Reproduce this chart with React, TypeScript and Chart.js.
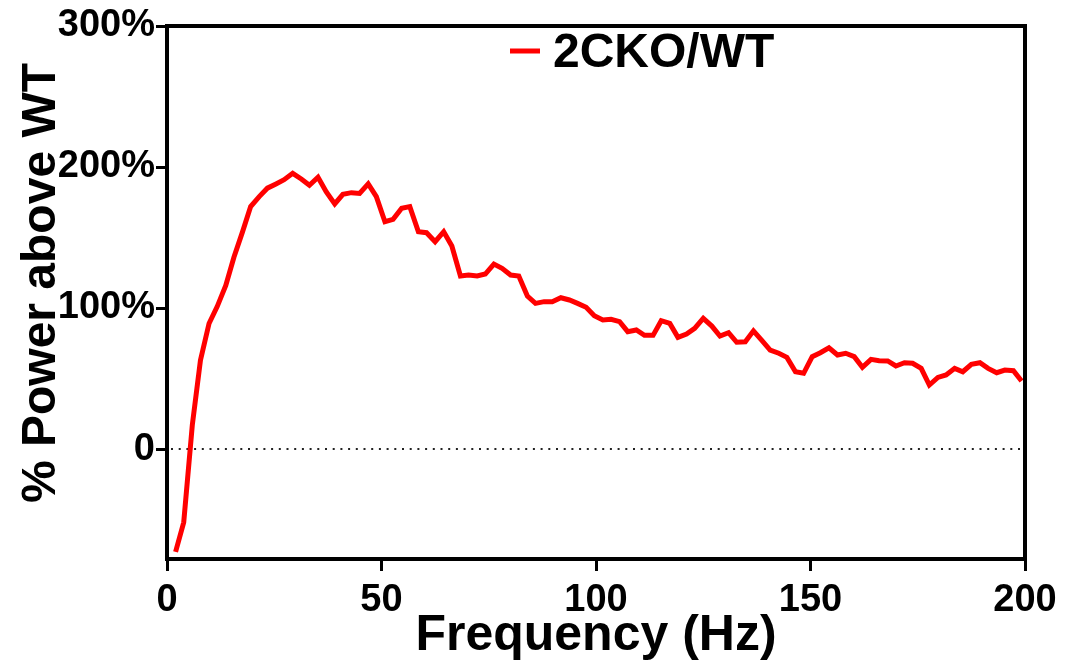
import React, { useEffect, useRef } from "react";
import { Chart, registerables } from "chart.js";
Chart.register(...registerables);

// Frequency bins (Hz)
const freqs = [
  2.0, 3.9, 5.9, 7.8, 9.8, 11.7, 13.7, 15.6, 17.6, 19.5,
  21.5, 23.4, 25.4, 27.3, 29.3, 31.3, 33.2, 35.2, 37.1, 39.1,
  41.0, 43.0, 44.9, 46.9, 48.8, 50.8, 52.7, 54.7, 56.6, 58.6,
  60.5, 62.5, 64.5, 66.4, 68.4, 70.3, 72.3, 74.2, 76.2, 78.1,
  80.1, 82.0, 84.0, 85.9, 87.9, 89.8, 91.8, 93.8, 95.7, 97.7,
  99.6, 101.6, 103.5, 105.5, 107.4, 109.4, 111.3, 113.3, 115.2, 117.2,
  119.1, 121.1, 123.0, 125.0, 127.0, 128.9, 130.9, 132.8, 134.8, 136.7,
  138.7, 140.6, 142.6, 144.5, 146.5, 148.4, 150.4, 152.3, 154.3, 156.3,
  158.2, 160.2, 162.1, 164.1, 166.0, 168.0, 169.9, 171.9, 173.8, 175.8,
  177.7, 179.7, 181.6, 183.6, 185.5, 187.5, 189.5, 191.4, 193.4, 195.3,
  197.3, 199.2,
];

// % power above WT
const ratioValues = [
  -73, -52, 17, 63, 89, 101, 116, 136, 154, 172,
  179, 185, 188, 191, 195.5, 191.5, 187, 192.7, 182.5, 173.8,
  180.6, 181.8, 181.3, 188, 179, 161.2, 162.9, 170.7, 171.9, 154.1,
  153.4, 147, 154.1, 144, 122.7, 123.4, 122.7, 124.1, 131.2, 128.2,
  123.4, 122.7, 108.5, 103.3, 104.5, 104.5, 107.3, 105.7, 103.3, 100.5,
  94.5, 91.5, 92, 90.3, 83.2, 84.4, 80.6, 80.6, 91, 89.1,
  79.2, 81.6, 85.6, 92.7, 87.2, 80.1, 82.5, 75.7, 76.1, 83.8,
  76.8, 70.2, 67.9, 65, 54.8, 53.7, 65.5, 68.3, 71.8, 66.7,
  67.9, 65.5, 57.9, 63.6, 62.6, 62.5, 58.9, 61.2, 60.8, 57.2,
  45.4, 50.8, 52.5, 57.2, 54.8, 60, 61.2, 57.2, 54.1, 56,
  55.5, 48.2,
];

const seriesLabel = "2CKO/WT";
const xTicks = [0, 50, 100, 150, 200];
const yTicks = [0, 100, 200, 300];
const xTitle = "Frequency (Hz)";
const yTitle = "% Power above WT";

const FONT = "'Liberation Sans', Arial, sans-serif";

export default function App() {
  const ref = useRef<HTMLCanvasElement>(null);

  useEffect(() => {
    document.body.style.margin = "0";
    const canvas = ref.current!;

    const decor = {
      id: "decor",
      beforeDatasetsDraw(chart: any) {
        const { ctx, chartArea, scales } = chart;
        const y0 = scales.y.getPixelForValue(0);
        ctx.save();
        ctx.strokeStyle = "#222";
        ctx.lineWidth = 2;
        ctx.setLineDash([2, 5.7]);
        ctx.beginPath();
        ctx.moveTo(chartArea.left + 4, y0);
        ctx.lineTo(chartArea.right - 2, y0);
        ctx.stroke();
        ctx.restore();
      },
      afterDraw(chart: any) {
        const { ctx, chartArea } = chart;
        ctx.save();
        // frame top + right
        ctx.strokeStyle = "#000";
        ctx.lineWidth = 4;
        ctx.beginPath();
        ctx.moveTo(chartArea.left - 2, chartArea.top);
        ctx.lineTo(chartArea.right, chartArea.top);
        ctx.lineTo(chartArea.right, chartArea.bottom + 2);
        ctx.stroke();

        ctx.fillStyle = "#000";
        // x title
        ctx.font = `bold 50px ${FONT}`;
        ctx.textAlign = "center";
        ctx.textBaseline = "alphabetic";
        ctx.fillText(xTitle, (chartArea.left + chartArea.right) / 2, 650);

        // y title
        ctx.save();
        ctx.translate(55, 283);
        ctx.rotate(-Math.PI / 2);
        ctx.font = `bold 48px ${FONT}`;
        ctx.textAlign = "center";
        ctx.fillText(yTitle, 0, 0);
        ctx.restore();

        // legend
        const ds = chart.data.datasets[0];
        ctx.strokeStyle = ds.borderColor;
        ctx.lineWidth = 5;
        ctx.beginPath();
        ctx.moveTo(510, 51);
        ctx.lineTo(540, 51);
        ctx.stroke();
        ctx.fillStyle = "#000";
        ctx.font = `bold 48px ${FONT}`;
        ctx.textAlign = "left";
        ctx.fillText(ds.label, 553, 67);
        ctx.restore();
      },
    };

    const tickFont = { family: FONT, size: 38, weight: "bold" as const };

    const chart = new Chart(canvas, {
      type: "line",
      data: {
        datasets: [
          {
            label: seriesLabel,
            data: freqs.map((f, i) => ({ x: f, y: ratioValues[i] })),
            borderColor: "#ff0000",
            borderWidth: 5,
            pointRadius: 0,
            tension: 0,
            fill: false,
          },
        ],
      },
      options: {
        responsive: false,
        animation: false,
        layout: { padding: { left: 0, right: 40, top: 26, bottom: 0 } },
        plugins: { legend: { display: false }, tooltip: { enabled: false } },
        scales: {
          x: {
            type: "linear",
            min: 0,
            max: 200,
            afterBuildTicks: (s: any) => {
              s.ticks = xTicks.map((v) => ({ value: v }));
            },
            afterFit: (s: any) => {
              s.height = 106;
            },
            grid: {
              drawOnChartArea: false,
              drawTicks: true,
              tickLength: 12,
              tickWidth: 3,
              tickColor: "#000",
            },
            border: { display: true, color: "#000", width: 4 },
            ticks: {
              color: "#000",
              font: tickFont,
              padding: 7,
              maxRotation: 0,
              autoSkip: false,
            },
          },
          y: {
            type: "linear",
            min: -78,
            max: 300,
            afterBuildTicks: (s: any) => {
              s.ticks = yTicks.map((v) => ({ value: v }));
            },
            afterFit: (s: any) => {
              s.width = 167;
            },
            grid: {
              drawOnChartArea: false,
              drawTicks: true,
              tickLength: 11,
              tickWidth: 3,
              tickColor: "#000",
            },
            border: { display: true, color: "#000", width: 4 },
            ticks: {
              color: "#000",
              font: tickFont,
              padding: 1,
              autoSkip: false,
              callback: (v: any) => (Number(v) === 0 ? "0" : `${v}%`),
            },
          },
        },
      },
      plugins: [decor],
    });

    return () => chart.destroy();
  }, []);

  return (
    <div style={{ width: 1065, height: 665, background: "#fff" }}>
      <canvas ref={ref} width={1065} height={665} />
    </div>
  );
}
